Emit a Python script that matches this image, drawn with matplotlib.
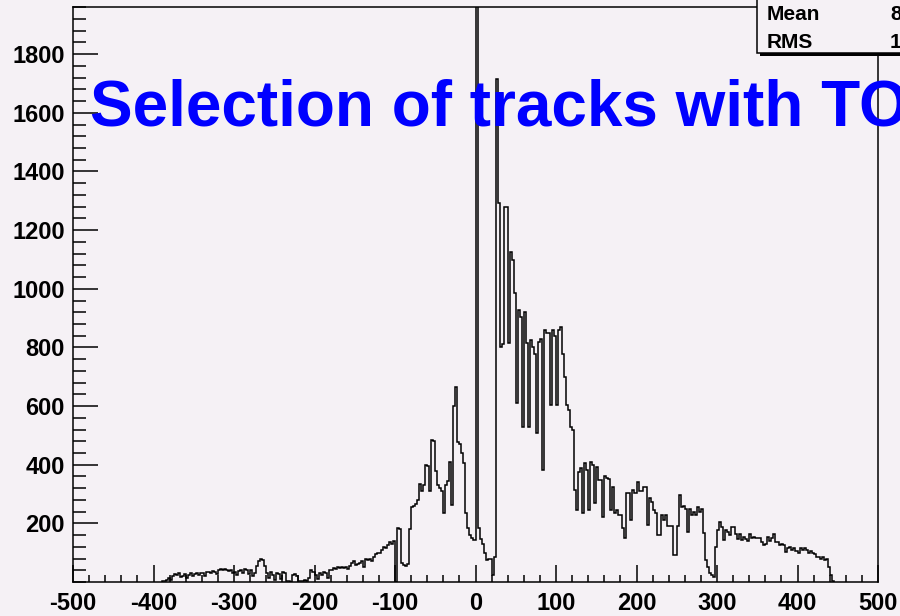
import numpy as np
import matplotlib
matplotlib.use("Agg")
import matplotlib.pyplot as plt
from matplotlib.patches import Rectangle
from matplotlib.ticker import MultipleLocator

# ---------------- data ----------------
bin_width = 2.5
first_edge = -390.0
counts = [
    2, 5, 8, 15, 8, 22, 28, 25, 30, 18,            # -390 .. -367.5
    22, 28, 15, 25, 30, 22, 28, 30, 25, 32,        # -365 .. -342.5
    30, 22, 33, 35, 30, 38, 35, 28, 40, 45,        # -340 .. -317.5
    42, 45, 40, 38, 42, 30, 35, 25, 38, 42,        # -315 .. -292.5
    32, 45, 40, 28, 42, 20, 30, 55, 72, 78,        # -290 .. -267.5
    75, 55, 30, 12, 35, 25, 8, 32, 28, 10,         # -265 .. -242.5
    35, 30, 5, 2, 0, 25, 28, 22, 5, 2,             # -240 .. -217.5
    5, 8, 3, 15, 40, 35, 25, 10, 32, 25,           # -215 .. -192.5
    35, 30, 15, 42, 40, 48, 45, 50, 48, 50,        # -190 .. -167.5
    48, 50, 45, 55, 65, 70, 58, 62, 65, 70,        # -165 .. -142.5
    50, 78, 75, 80, 72, 85, 95, 100, 98, 110,      # -140 .. -117.5
    120, 115, 125, 135, 128, 140, 0, 185, 182, 65,  # -115 .. -92.5
    58, 55, 60, 180, 255, 260, 265, 280, 335, 310,  # -90 .. -67.5
    330, 400, 395, 310, 484, 480, 380, 330, 320, 310,  # -65 .. -42.5
    235, 330, 345, 410, 262, 600, 665, 478, 470, 440,  # -40 .. -17.5
    405, 235, 184, 160, 150, 143, 2500, 185, 145, 130,  # -15 .. 7.5
    100, 75, 78, 80, 25, 86, 1716, 1291, 802, 810,      # 10 .. 32.5
    1279, 1279, 814, 1125, 1097, 984, 610, 927, 904, 529,  # 35 .. 57.5
    920, 814, 529, 824, 800, 779, 507, 820, 830, 382,   # 60 .. 82.5
    858, 848, 850, 603, 860, 840, 603, 858, 870, 779,   # 85 .. 107.5
    700, 603, 586, 529, 520, 313, 245, 375, 388, 235,   # 110 .. 132.5
    405, 382, 245, 410, 400, 270, 393, 347, 347, 222,   # 135 .. 157.5
    360, 355, 350, 245, 325, 235, 245, 228, 228, 183,   # 160 .. 182.5
    150, 303, 303, 211, 313, 303, 342, 310, 310, 325,   # 185 .. 207.5
    325, 194, 286, 274, 245, 235, 160, 160, 228, 211,   # 210 .. 232.5
    230, 190, 190, 190, 92, 92, 190, 296, 257, 260,     # 235 .. 257.5
    250, 171, 250, 230, 240, 228, 255, 240, 250, 167,   # 260 .. 282.5
    75, 52, 30, 24, 17, 120, 177, 205, 188, 143,        # 285 .. 307.5
    177, 170, 160, 188, 188, 165, 148, 165, 143, 155,   # 310 .. 332.5
    148, 140, 165, 150, 155, 150, 150, 150, 135, 125,   # 335 .. 357.5
    130, 155, 140, 150, 165, 135, 135, 125, 130, 125,   # 360 .. 382.5
    102, 115, 120, 110, 115, 105, 100, 115, 110, 115,   # 385 .. 407.5
    110, 100, 105, 100, 95, 85, 85, 80, 85, 75,         # 410 .. 432.5
    80, 52, 25, 5,                                      # 435 .. 442.5
]
title_text = "Selection of tracks with TOF"
stat_names = ["Mean", "RMS"]
stat_values = ["82.15", "157.4"]
x_range = (-500, 500)
y_range = (0, 1960)
x_ticks = list(range(-500, 501, 100))
y_ticks = list(range(200, 1801, 200))

# ---------------- figure ----------------
W, H = 900, 616
BG = "#f5f1f5"
FONT = "Liberation Sans"

fig = plt.figure(figsize=(W / 100, H / 100), dpi=100)
fig.patch.set_facecolor(BG)

ax_l, ax_r, ax_t, ax_b = 73, 878, 7.3, 582
ax = fig.add_axes([ax_l / W, 1 - ax_b / H, (ax_r - ax_l) / W, (ax_b - ax_t) / H])
ax.set_facecolor(BG)

edges = first_edge + bin_width * np.arange(len(counts) + 1)
ax.stairs(counts, edges, color="black", lw=1.1, baseline=0)

ax.set_xlim(*x_range)
ax.set_ylim(*y_range)

ax.set_xticks(x_ticks)
ax.set_xticklabels([str(v) for v in x_ticks])
ax.set_yticks(y_ticks)
ax.set_yticklabels([str(v) for v in y_ticks])
ax.xaxis.set_minor_locator(MultipleLocator(20))
ax.yaxis.set_minor_locator(MultipleLocator(40))

ax.tick_params(axis="both", which="both", direction="in", top=False, right=False,
               width=1.1, color="black")
ax.tick_params(axis="y", which="major", length=18, pad=6)
ax.tick_params(axis="y", which="minor", length=9)
ax.tick_params(axis="x", which="major", length=12, pad=7)
ax.tick_params(axis="x", which="minor", length=5.3)
for lab in ax.get_xticklabels() + ax.get_yticklabels():
    lab.set_fontfamily(FONT)
    lab.set_fontweight("bold")
    lab.set_fontsize(17)

for sp in ax.spines.values():
    sp.set_linewidth(1.1)
    sp.set_color("black")

# title (blue, large, running off the right edge)
fig.text(89.5 / W, 1 - 125 / H, title_text, color="#0000ff", fontsize=46,
         fontweight="bold", family=FONT, ha="left", va="baseline", zorder=20)

# stats box in the top-right corner (partially outside the canvas)
bx0, by0 = 757, 53
shadow = Rectangle(((bx0 + 3) / W, 1 - (by0 + 3) / H), 0.3, 0.2,
                   transform=fig.transFigure, facecolor="black", edgecolor="black",
                   lw=0, zorder=9)
box = Rectangle((bx0 / W, 1 - by0 / H), 0.3, 0.2, transform=fig.transFigure,
                facecolor=BG, edgecolor="black", lw=1.1, zorder=10)
fig.add_artist(shadow)
fig.add_artist(box)
for i, (nm, val) in enumerate(zip(stat_names, stat_values)):
    yb = 1 - (20 + 28.3 * i) / H
    fig.text(767 / W, yb, nm, fontsize=15, fontweight="bold", family=FONT,
             ha="left", va="baseline", zorder=11)
    fig.text(890 / W, yb, val, fontsize=15, fontweight="bold", family=FONT,
             ha="left", va="baseline", zorder=11)

fig.savefig("out.png", dpi=100, facecolor=BG)
